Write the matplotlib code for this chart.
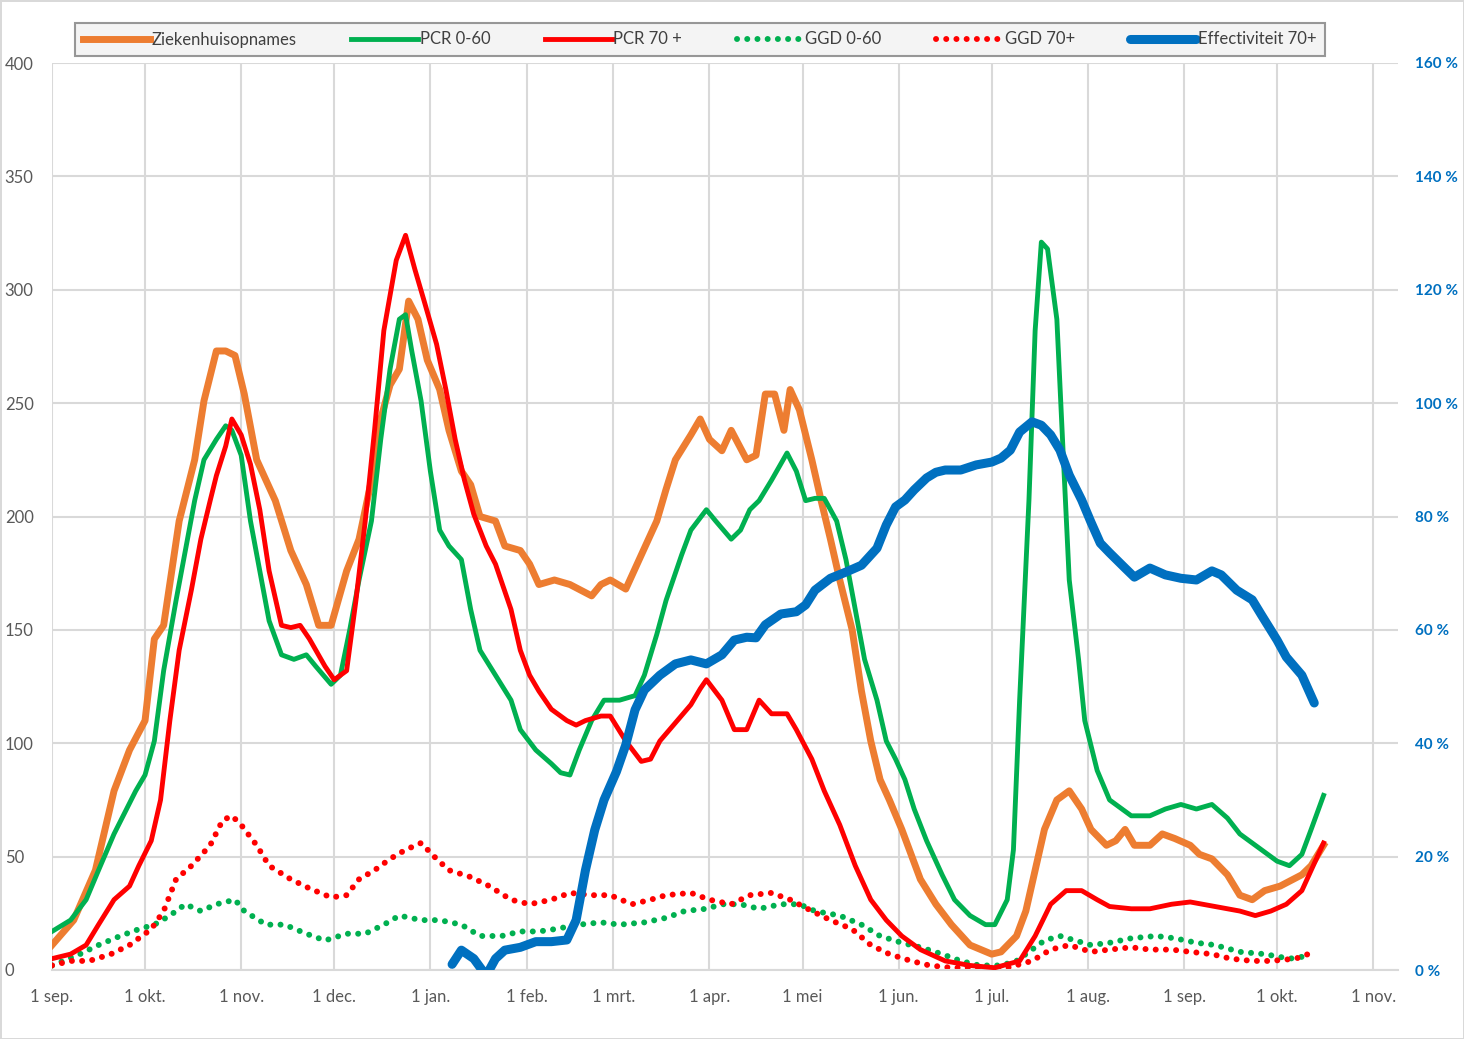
import matplotlib
matplotlib.use("Agg")
import matplotlib.pyplot as plt
import pandas as pd

plt.rcParams['font.family'] = ['Lato', 'DejaVu Sans']

# x values are days since 1 sep 2020
start = pd.Timestamp('2020-09-01')

opn_days = [0, 7, 14, 20, 25, 30, 33, 36, 41, 46, 49, 53, 56, 59, 62, 66, 69, 72, 77, 82, 86, 90, 95, 99,
            103, 106, 109, 112, 115, 118, 121, 125, 128, 132, 135, 138, 143, 146, 151, 154, 157, 162, 167,
            174, 177, 180, 185, 190, 195, 198, 201, 206, 209, 212, 216, 219, 224, 227, 230, 233, 236, 238,
            241, 245, 248, 251, 254, 258, 261, 264, 267, 270, 274, 277, 280, 285, 290, 296, 303, 306, 311,
            314, 317, 320, 324, 328, 332, 335, 340, 343, 346, 349, 354, 358, 362, 367, 370, 374, 379, 383,
            387, 391, 396, 403, 406, 410]
opn_vals = [11, 22, 44, 79, 97, 110, 146, 152, 198, 225, 251, 273, 273, 271, 254, 225, 216, 207, 185, 170,
            152, 152, 176, 190, 216, 243, 258, 265, 295, 287, 269, 256, 238, 220, 214, 200, 198, 187, 185,
            179, 170, 172, 170, 165, 170, 172, 168, 183, 198, 212, 225, 236, 243, 234, 229, 238, 225, 227,
            254, 254, 238, 256, 247, 225, 207, 190, 172, 150, 123, 101, 84, 75, 62, 51, 40, 29, 20, 11, 7,
            8, 15, 26, 44, 62, 75, 79, 71, 62, 55, 57, 62, 55, 55, 60, 58, 55, 51, 49, 42, 33, 31, 35, 37,
            42, 46, 55]

pcr060_days = [0, 6, 11, 15, 20, 27, 30, 33, 36, 40, 43, 46, 49, 53, 56, 58, 61, 64, 67, 70, 74, 78, 82, 85,
               90, 93, 96, 99, 103, 106, 109, 112, 114, 116, 119, 122, 125, 128, 132, 135, 138, 143, 148,
               151, 156, 161, 164, 167, 170, 174, 178, 183, 188, 191, 195, 198, 203, 206, 211, 214, 219, 222,
               225, 228, 232, 237, 240, 243, 246, 249, 253, 256, 259, 262, 266, 269, 272, 275, 278, 282, 287,
               291, 296, 301, 304, 308, 310, 312, 315, 317, 319, 321, 324, 326, 328, 331, 333, 337, 341, 348,
               354, 359, 364, 369, 374, 379, 383, 390, 395, 399, 403, 406, 410]
pcr060_vals = [17, 22, 31, 44, 60, 79, 86, 101, 132, 163, 185, 207, 225, 234, 240, 238, 227, 198, 176, 154,
               139, 137, 139, 134, 126, 130, 150, 172, 198, 234, 265, 287, 289, 273, 251, 220, 194, 187, 181,
               159, 141, 130, 119, 106, 97, 91, 87, 86, 97, 110, 119, 119, 121, 130, 148, 163, 183, 194, 203,
               198, 190, 194, 203, 207, 216, 228, 220, 207, 208, 208, 198, 181, 159, 137, 119, 101, 93, 84,
               71, 57, 42, 31, 24, 20, 20, 31, 53, 119, 207, 282, 321, 318, 287, 229, 172, 137, 110, 88, 75,
               68, 68, 71, 73, 71, 73, 67, 60, 53, 48, 46, 51, 62, 77]

pcr70_days = [0, 6, 11, 15, 20, 25, 28, 32, 35, 38, 41, 45, 48, 51, 53, 56, 58, 61, 64, 67, 70, 74, 77, 80,
              83, 88, 91, 95, 98, 101, 104, 107, 111, 114, 117, 120, 124, 127, 130, 133, 136, 140, 143, 148,
              151, 154, 157, 161, 166, 169, 172, 177, 180, 185, 190, 193, 196, 201, 206, 209, 211, 216, 220,
              224, 228, 232, 237, 240, 245, 249, 254, 259, 264, 269, 274, 280, 288, 296, 304, 312, 317, 322,
              327, 332, 337, 341, 348, 354, 361, 367, 375, 383, 388, 393, 398, 403, 406, 410]
pcr70_vals = [5, 7, 11, 20, 31, 37, 46, 57, 75, 110, 141, 168, 190, 207, 218, 231, 243, 236, 223, 203, 176,
              152, 151, 152, 146, 134, 128, 132, 163, 198, 238, 282, 313, 324, 309, 295, 276, 256, 234, 216,
              201, 187, 179, 159, 141, 130, 123, 115, 110, 108, 110, 112, 112, 101, 92, 93, 101, 109, 117,
              124, 128, 119, 106, 106, 119, 113, 113, 106, 93, 79, 64, 46, 31, 22, 15, 9, 4, 2, 1, 4, 15, 29,
              35, 35, 31, 28, 27, 27, 29, 30, 28, 26, 24, 26, 29, 35, 44, 56]

ggd060_days = [0, 9, 15, 22, 28, 33, 38, 43, 48, 53, 59, 62, 69, 75, 82, 88, 95, 101, 107, 112, 119, 125,
               132, 138, 145, 151, 157, 162, 170, 177, 183, 191, 198, 204, 211, 216, 222, 228, 235, 241, 246,
               254, 261, 267, 274, 280, 287, 293, 299, 306, 311, 316, 320, 325, 330, 335, 341, 348, 356, 362,
               369, 375, 383, 391, 399, 404]
ggd060_vals = [2, 7, 11, 15, 18, 20, 24, 29, 26, 29, 31, 26, 20, 20, 16, 13, 16, 16, 20, 24, 22, 22, 20, 15,
               15, 17, 17, 18, 20, 21, 20, 21, 23, 26, 27, 29, 29, 27, 29, 29, 26, 24, 20, 15, 12, 10, 7, 4,
               2, 2, 4, 9, 13, 15, 13, 11, 12, 14, 15, 14, 12, 11, 8, 7, 5, 6]

ggd70_days = [0, 6, 12, 19, 25, 32, 36, 40, 45, 51, 55, 58, 61, 66, 70, 77, 83, 90, 95, 99, 104, 109, 114,
              119, 124, 128, 135, 141, 148, 154, 161, 167, 174, 180, 187, 193, 198, 206, 212, 219, 225, 232,
              238, 245, 251, 258, 264, 270, 277, 283, 290, 299, 308, 316, 322, 328, 335, 341, 348, 354, 361,
              367, 374, 380, 387, 393, 401, 405]
ggd70_vals = [2, 4, 4, 7, 11, 18, 26, 40, 46, 55, 66, 68, 64, 55, 46, 40, 36, 32, 33, 40, 44, 49, 53, 56, 49,
              44, 41, 37, 31, 29, 31, 34, 33, 33, 29, 31, 33, 34, 31, 29, 33, 34, 31, 26, 22, 18, 11, 7, 4, 2,
              1, 1, 1, 4, 9, 11, 8, 9, 10, 9, 9, 8, 7, 5, 4, 4, 5, 7]

eff_days = [129, 132, 136, 140, 143, 146, 151, 156, 161, 166, 169, 172, 175, 178, 182, 185, 188, 191, 196,
            201, 206, 211, 216, 220, 224, 227, 230, 235, 240, 243, 246, 251, 256, 261, 266, 269, 272, 275,
            278, 282, 285, 288, 293, 298, 303, 306, 309, 312, 316, 319, 322, 325, 328, 332, 335, 338, 341,
            346, 349, 354, 359, 364, 369, 374, 377, 382, 387, 390, 395, 398, 403, 407]
eff_vals = [1, 3.5, 2, -1, 2, 3.5, 4, 5, 5, 5.3, 8.8, 17.6, 24.7, 30, 35, 39.7, 45.9, 49.4, 52, 54, 54.7, 54,
            55.6, 58.2, 58.7, 58.6, 60.9, 62.8, 63.2, 64.4, 67, 69.1, 70.2, 71.4, 74.4, 78.5, 81.7, 82.9,
            84.7, 86.8, 87.8, 88.2, 88.2, 89.1, 89.6, 90.3, 91.7, 94.9, 96.7, 96.1, 94.4, 91.7, 87.3, 82.9,
            79, 75.3, 73.6, 70.9, 69.3, 70.9, 69.7, 69.1, 68.8, 70.4, 69.7, 67, 65.3, 62.6, 58.2, 55.2, 52,
            47.1]

month_labels = ['1 sep.', '1 okt.', '1 nov.', '1 dec.', '1 jan.', '1 feb.', '1 mrt.', '1 apr.', '1 mei',
                '1 jun.', '1 jul.', '1 aug.', '1 sep.', '1 okt.', '1 nov.']


def to_dates(days):
    return start + pd.to_timedelta(days, unit='D')


fig = plt.figure(figsize=(14.64, 10.39), dpi=100)
fig.patch.set_edgecolor('#D9D9D9')
fig.patch.set_linewidth(2)
ax = fig.add_axes([52 / 1464, 1 - 970 / 1039, 1346 / 1464, 907 / 1039])
ax2 = ax.twinx()

dot = (0, (0.01, 1.7))
ax.plot(to_dates(ggd060_days), ggd060_vals, color='#00B050', lw=4.3, ls=dot, dash_capstyle='round',
        label='GGD 0-60', zorder=2)
ax.plot(to_dates(ggd70_days), ggd70_vals, color='#FF0000', lw=4.3, ls=dot, dash_capstyle='round',
        label='GGD 70+', zorder=2)
ax.plot(to_dates(opn_days), opn_vals, color='#ED7D31', lw=5, label='Ziekenhuisopnames', zorder=3)
ax.plot(to_dates(pcr060_days), pcr060_vals, color='#00B050', lw=3.5, label='PCR 0-60', zorder=4)
ax.plot(to_dates(pcr70_days), pcr70_vals, color='#FF0000', lw=3.5, label='PCR 70 +', zorder=5)
ax2.plot(to_dates(eff_days), eff_vals, color='#0070C0', lw=6.5, solid_capstyle='round',
         label='Effectiviteit 70+')

ticks = pd.date_range('2020-09-01', '2021-11-01', freq='MS')
ax.set_xticks(ticks)
ax.set_xticklabels(month_labels)
ax.set_xlim(start, start + pd.Timedelta(days=434))
ax.set_ylim(0, 400)
ax.set_yticks(range(0, 401, 50))
ax2.set_ylim(0, 160)
ax2.set_yticks(range(0, 161, 20))
ax2.set_yticklabels([f'{v} %' for v in range(0, 161, 20)])

ax.grid(True, color='#D9D9D9', lw=1.5)
ax.set_axisbelow(True)
for sp in ['top', 'right', 'left']:
    ax.spines[sp].set_visible(False)
    ax2.spines[sp].set_visible(False)
ax.spines['bottom'].set_color('#D9D9D9')
ax.spines['bottom'].set_linewidth(1.5)
ax2.spines['bottom'].set_visible(False)

ax.tick_params(axis='y', length=0, labelsize=12, labelcolor='#595959', pad=34)
for lbl in ax.get_yticklabels():
    lbl.set_horizontalalignment('left')
ax.tick_params(axis='x', length=0, labelsize=12, labelcolor='#595959', pad=14)
ax2.tick_params(axis='y', length=0, labelsize=11, labelcolor='#0070C0', pad=12)
for lbl in ax2.get_yticklabels():
    lbl.set_fontweight('bold')

h1, l1 = ax.get_legend_handles_labels()
h2, l2 = ax2.get_legend_handles_labels()
hd = dict(zip(l1 + l2, h1 + h2))
order = ['Ziekenhuisopnames', 'PCR 0-60', 'PCR 70 +', 'GGD 0-60', 'GGD 70+', 'Effectiviteit 70+']
leg = fig.legend([hd[k] for k in order], order, ncol=6, loc='center', mode='expand',
                 bbox_to_anchor=(75 / 1464, 1 - 57 / 1039, 1250 / 1464, 35 / 1039),
                 fontsize=12, handlelength=4, handletextpad=0.1, fancybox=False,
                 frameon=True, borderpad=0.5, columnspacing=1.0, borderaxespad=0)
leg.get_frame().set_facecolor('#F2F2F2')
leg.get_frame().set_edgecolor('#7F7F7F')
leg.get_frame().set_linewidth(1.5)
for t in leg.get_texts():
    t.set_color('#404040')

fig.savefig('out.png', dpi=100)
